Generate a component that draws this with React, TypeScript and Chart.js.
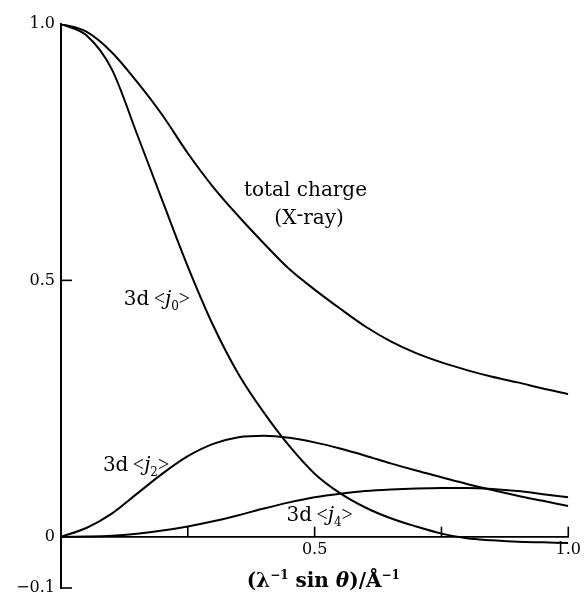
import React, { useEffect, useRef } from 'react';
import { Chart, registerables } from 'chart.js';

Chart.register(...registerables);

// scattering vector (λ⁻¹ sin θ)/Å⁻¹
const X_VALUES = [0, 0.05, 0.1, 0.15, 0.2, 0.25, 0.3, 0.35, 0.4, 0.45, 0.5, 0.55, 0.6, 0.65, 0.7, 0.75, 0.8, 0.85, 0.9, 0.95, 1.0];
const TOTAL_CHARGE = [1.0, 0.985, 0.945, 0.887, 0.822, 0.748, 0.682, 0.625, 0.572, 0.522, 0.482, 0.445, 0.41, 0.381, 0.358, 0.34, 0.325, 0.312, 0.301, 0.289, 0.278];
const J0 = [1.0, 0.978, 0.912, 0.785, 0.655, 0.527, 0.412, 0.317, 0.242, 0.177, 0.123, 0.085, 0.057, 0.036, 0.02, 0.006, -0.003, -0.007, -0.01, -0.011, -0.012];
const J2 = [0, 0.017, 0.045, 0.084, 0.123, 0.157, 0.181, 0.194, 0.197, 0.193, 0.184, 0.172, 0.158, 0.143, 0.129, 0.116, 0.103, 0.091, 0.08, 0.07, 0.06];
const J4 = [0, 0.0005, 0.002, 0.006, 0.012, 0.02, 0.03, 0.042, 0.055, 0.067, 0.077, 0.084, 0.089, 0.092, 0.094, 0.095, 0.095, 0.093, 0.089, 0.083, 0.077];

const Y_TICKS = [-0.1, 0, 0.5, 1.0];
const Y_TICK_LABELS = ['\u22120.1', '0', '0.5', '1.0'];
const X_LABEL_TICKS = [0.5, 1.0];
const X_TICK_LABELS = ['0.5', '1.0'];
const X_MARK_TICKS = [0.25, 0.5, 0.75, 1.0];
const Y_MARK_TICKS = [0.5, -0.1];

const SERIF = '"DejaVu Serif", serif';
const BRACKET = '"Liberation Serif", serif';

type Seg = { text: string; font: string; dy?: number };

function jLabel(n: string): Seg[] {
  return [
    { text: '3d', font: `20px ${SERIF}` },
    { text: ' ', font: `14px ${SERIF}` },
    { text: '<', font: `20px ${BRACKET}` },
    { text: 'j', font: `italic 20px ${SERIF}` },
    { text: n, font: `12px ${SERIF}`, dy: 5 },
    { text: '>', font: `20px ${BRACKET}` },
  ];
}

const ANNOTATIONS: { x: number; y: number; segs: Seg[] }[] = [
  { x: 0.482, y: 0.665, segs: [{ text: 'total charge', font: `20px ${SERIF}` }] },
  {
    x: 0.489,
    y: 0.609,
    segs: [
      { text: '(X', font: `20px ${SERIF}` },
      { text: '-', font: `20px ${SERIF}`, dy: -3 },
      { text: 'ray)', font: `20px ${SERIF}` },
    ],
  },
  { x: 0.189, y: 0.451, segs: jLabel('0') },
  { x: 0.148, y: 0.129, segs: jLabel('2') },
  { x: 0.51, y: 0.03, segs: jLabel('4') },
  {
    x: 0.517,
    y: -0.099,
    segs: [
      { text: '(\u03bb', font: `bold 20px ${SERIF}` },
      { text: '\u22121', font: `bold 12px ${SERIF}`, dy: -8 },
      { text: ' sin ', font: `bold 20px ${SERIF}` },
      { text: '\u03b8', font: `italic bold 20px ${SERIF}` },
      { text: ')/\u00c5', font: `bold 20px ${SERIF}` },
      { text: '\u22121', font: `bold 12px ${SERIF}`, dy: -8 },
    ],
  },
];

function drawRich(ctx: CanvasRenderingContext2D, cx: number, baseline: number, segs: Seg[]) {
  const widths = segs.map((s) => {
    ctx.font = s.font;
    return ctx.measureText(s.text).width;
  });
  const total = widths.reduce((a, b) => a + b, 0);
  let x = cx - total / 2;
  segs.forEach((s, i) => {
    ctx.font = s.font;
    ctx.fillText(s.text, x, baseline + (s.dy || 0));
    x += widths[i];
  });
}

const decorPlugin = {
  id: 'decor',
  afterDraw(chart: any) {
    const { ctx, scales } = chart;
    const xs = scales.x;
    const ys = scales.y;
    ctx.save();
    ctx.strokeStyle = '#000';
    ctx.lineWidth = 1.6;
    const y0 = ys.getPixelForValue(0);
    X_MARK_TICKS.forEach((v) => {
      const px = xs.getPixelForValue(v);
      ctx.beginPath();
      ctx.moveTo(px, y0);
      ctx.lineTo(px, y0 - 10);
      ctx.stroke();
    });
    const x0 = xs.getPixelForValue(0);
    Y_MARK_TICKS.forEach((v) => {
      const py = ys.getPixelForValue(v);
      ctx.beginPath();
      ctx.moveTo(x0, py);
      ctx.lineTo(x0 + 11, py);
      ctx.stroke();
    });
    ctx.fillStyle = '#000';
    ctx.textAlign = 'left';
    ctx.textBaseline = 'alphabetic';
    ANNOTATIONS.forEach((a) => {
      drawRich(ctx, xs.getPixelForValue(a.x), ys.getPixelForValue(a.y), a.segs);
    });
    ctx.restore();
  },
};

const SERIES = [TOTAL_CHARGE, J0, J2, J4];

export default function App() {
  const ref = useRef<HTMLCanvasElement>(null);
  useEffect(() => {
    const chart = new Chart(ref.current!, {
      type: 'line',
      data: {
        datasets: SERIES.map((vals) => ({
          data: X_VALUES.map((x, i) => ({ x, y: vals[i] })),
          borderColor: '#000',
          borderWidth: 2,
          pointRadius: 0,
          fill: false,
          cubicInterpolationMode: 'monotone' as const,
        })),
      },
      options: {
        animation: false,
        responsive: true,
        maintainAspectRatio: false,
        layout: { padding: { left: 0, right: 13, top: 24, bottom: 10 } },
        plugins: { legend: { display: false }, tooltip: { enabled: false } },
        scales: {
          x: {
            type: 'linear',
            min: 0,
            max: 1,
            position: { y: 0 } as any,
            grid: { display: false, drawTicks: false },
            border: { display: true, color: '#000', width: 1.8 },
            afterBuildTicks: (s: any) => {
              s.ticks = X_LABEL_TICKS.map((v) => ({ value: v }));
            },
            ticks: {
              callback: (v: any) => {
                const i = X_LABEL_TICKS.indexOf(Number(v));
                return i >= 0 ? X_TICK_LABELS[i] : '';
              },
              font: { family: SERIF, size: 16 },
              color: '#000',
              padding: 4,
              maxRotation: 0,
              autoSkip: false,
            },
          },
          y: {
            type: 'linear',
            min: -0.1,
            max: 1,
            grid: { display: false, drawTicks: false },
            border: { display: true, color: '#000', width: 2 },
            afterBuildTicks: (s: any) => {
              s.ticks = Y_TICKS.map((v) => ({ value: v }));
            },
            afterFit: (s: any) => {
              s.width = 61;
              s.paddingTop = 0;
              s.paddingBottom = 0;
            },
            ticks: {
              callback: (v: any) => {
                const i = Y_TICKS.indexOf(Number(v));
                return i >= 0 ? Y_TICK_LABELS[i] : '';
              },
              font: { family: SERIF, size: 16 },
              color: '#000',
              padding: 6,
              autoSkip: false,
            },
          },
        },
      },
      plugins: [decorPlugin],
    });
    return () => chart.destroy();
  }, []);
  return (
    <div style={{ position: 'fixed', left: 0, top: 0, width: 585, height: 598, background: '#fff' }}>
      <canvas ref={ref} />
    </div>
  );
}
